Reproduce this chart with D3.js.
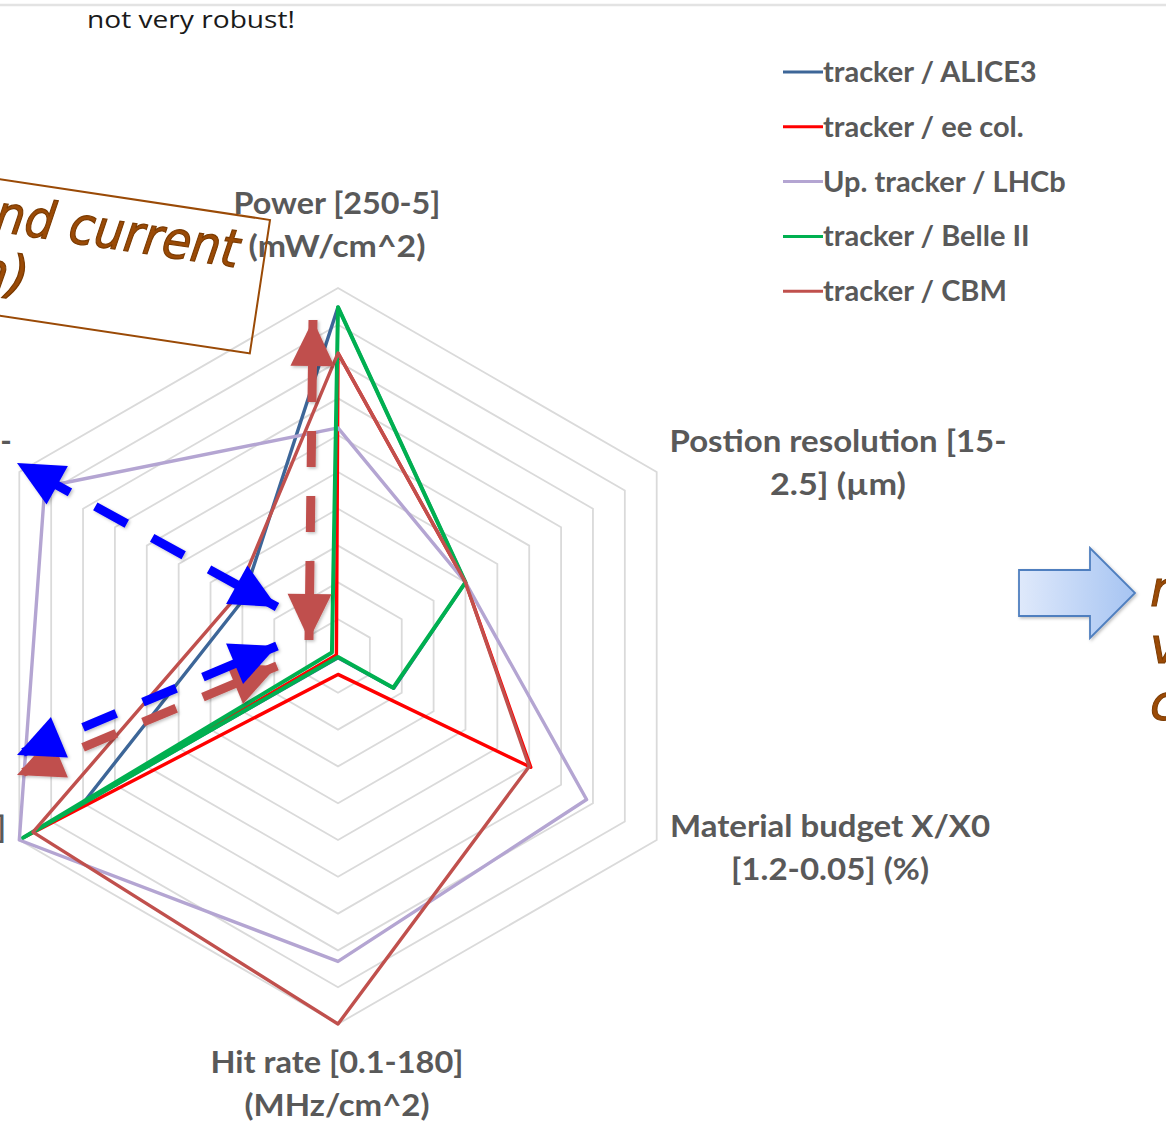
<html>
<head>
<script src="https://d3js.org/d3.v7.min.js"></script>
<style>
  body { margin: 0; background: #fff; }
  svg { display: block; }
</style>
</head>
<body>
<svg id="svg" width="1166" height="1132"></svg>
<script>
// ---- chart data ----
var axisLabels = [
  ["Power [250-5]", "(mW/cm^2)"],
  ["Postion resolution [15-", "2.5] (\u00b5m)"],
  ["Material budget X/X0", "[1.2-0.05] (%)"],
  ["Hit rate [0.1-180]", "(MHz/cm^2)"],
  ["Time resolution [100-0.1]"],
  ["Radiation tolerance [1e13-"]
];
var seriesNames = ["tracker / ALICE3", "tracker / ee col.", "Up. tracker / LHCb", "tracker / Belle II", "tracker / CBM"];
var alice3  = [9.48, 4.0, 1.75, 0.05, 8.0, 3.0];
var eeCol   = [8.23, 4.0, 6.05, 0.5, 9.85, 0.05];
var lhcb    = [6.2, 4.0, 7.8, 8.3, 10.0, 9.2];
var belle2  = [9.48, 4.0, 1.73, 0.03, 9.88, 0.19];
var cbm     = [8.23, 4.0, 6.0, 10.0, 9.57, 3.2];
var gridLevels = [1, 2, 3, 4, 5, 6, 7, 8, 9, 10];

var seriesValues = [alice3, eeCol, lhcb, belle2, cbm];
var colors = ["#3d6698", "#ff0000", "#b4a5d2", "#00b050", "#c0504d"];

// ---- layout ----
var svg = d3.select("svg");
var center = {x: 338, y: 656};
var R = 368;
var r = d3.scaleLinear().domain([0, 10]).range([0, R]);
var angle = d3.scaleLinear().domain([0, axisLabels.length]).range([0, 2 * Math.PI]);

var defs = svg.append("defs");
var shadow = defs.append("filter").attr("id", "shadow").attr("x", "-20%").attr("y", "-20%").attr("width", "140%").attr("height", "140%");
shadow.append("feDropShadow").attr("dx", 1.5).attr("dy", 1.5).attr("stdDeviation", 1.5)
  .attr("flood-color", "#000").attr("flood-opacity", 0.25);
var grad = defs.append("linearGradient").attr("id", "blockgrad");
grad.append("stop").attr("offset", "0%").attr("stop-color", "#dfe9fb");
grad.append("stop").attr("offset", "100%").attr("stop-color", "#a6c4f2");

// top slide line and text
svg.append("line").attr("x1", 0).attr("x2", 1166).attr("y1", 5).attr("y2", 5)
  .attr("stroke", "#e3e3e3").attr("stroke-width", 2.5);
svg.append("text").attr("x", 87).attr("y", 28)
  .attr("font-family", "Open Sans, sans-serif").attr("font-size", 24)
  .attr("textLength", 208).attr("lengthAdjust", "spacingAndGlyphs")
  .attr("fill", "#1a1a1a").text("not very robust!");

var chart = svg.append("g").attr("transform", "translate(" + center.x + "," + center.y + ")");

// grid hexagons
var radial = d3.lineRadial().curve(d3.curveLinearClosed);
chart.selectAll(".grid").data(gridLevels).enter().append("path")
  .attr("class", "grid")
  .attr("d", function(lv) {
    return radial(axisLabels.map(function(_, i) { return [angle(i), r(lv)]; }));
  })
  .attr("fill", "none").attr("stroke", "#dadada").attr("stroke-width", 1.8);

// series
chart.selectAll(".series").data(seriesValues).enter().append("path")
  .attr("class", "series")
  .attr("d", function(vals) {
    return radial(vals.map(function(v, i) { return [angle(i), r(v)]; }));
  })
  .attr("fill", "none")
  .attr("stroke", function(d, i) { return colors[i]; })
  .attr("stroke-width", function(d, i) { return i == 3 ? 4 : 3.4; })
  .attr("stroke-linejoin", "round");

// axis labels (the two left ones run off the slide edge)
var labelPos = [[337, 214], [838, 452], [830, 837], [337, 1073], [-170, 838], [-172, 452]];
var labelWidths = [[207, 177], [337, 136], [320, 198], [253, 185], [null], [null]];
var labelFont = "Lato, sans-serif";
axisLabels.forEach(function(lines, i) {
  var t = svg.append("text")
    .attr("font-family", labelFont).attr("font-weight", 700).attr("font-size", 31)
    .attr("fill", "#595959").attr("text-anchor", "middle");
  lines.forEach(function(s, k) {
    var ts = t.append("tspan").attr("x", labelPos[i][0]).attr("y", labelPos[i][1] + k * 43).text(s);
    if (labelWidths[i][k]) ts.attr("textLength", labelWidths[i][k]).attr("lengthAdjust", "spacingAndGlyphs");
  });
});

// legend
var legend = svg.append("g").attr("transform", "translate(783,72)");
var rows = legend.selectAll("g").data(seriesNames).enter().append("g")
  .attr("transform", function(d, i) { return "translate(0," + (i * 54.8) + ")"; });
rows.append("line").attr("x1", 0).attr("x2", 40).attr("y1", 0).attr("y2", 0)
  .attr("stroke", function(d, i) { return colors[i]; }).attr("stroke-width", 3);
rows.append("text").attr("x", 40).attr("y", 10)
  .attr("font-family", labelFont).attr("font-weight", 700).attr("font-size", 29)
  .attr("fill", "#595959").text(function(d) { return d; });

// annotation arrows (dashed, double headed)
var arrows = [
  {a: [313, 320], b: [309, 640], color: "#c0504d", off: -46},
  {a: [17, 463], b: [277, 607], color: "#0000ff", off: -24.5},
  {a: [17, 775], b: [277, 666], color: "#c0504d", off: -6.6},
  {a: [17, 755], b: [277, 646], color: "#0000ff", off: -6.6}
];
function head(tip, from, len, half) {
  var dx = tip[0] - from[0], dy = tip[1] - from[1];
  var L = Math.sqrt(dx * dx + dy * dy);
  var ux = dx / L, uy = dy / L;
  var bx = tip[0] - ux * len, by = tip[1] - uy * len;
  return [tip, [bx - uy * half, by + ux * half], [bx + uy * half, by - ux * half]];
}
var ann = svg.append("g").attr("filter", "url(#shadow)");
arrows.forEach(function(ar) {
  var g = ann.append("g");
  g.append("line").attr("x1", ar.a[0]).attr("y1", ar.a[1]).attr("x2", ar.b[0]).attr("y2", ar.b[1])
    .attr("stroke", ar.color).attr("stroke-width", 9)
    .attr("stroke-dasharray", "36 29").attr("stroke-dashoffset", ar.off);
  [head(ar.a, ar.b, 46, 22), head(ar.b, ar.a, 46, 22)].forEach(function(p) {
    g.append("polygon").attr("points", p.map(function(q) { return q.join(","); }).join(" "))
      .attr("fill", ar.color);
  });
});

// rotated text box (cut at the left edge)
var box = svg.append("g").attr("transform", "translate(270,220) rotate(8.6)");
box.append("rect").attr("x", -440).attr("y", 0).attr("width", 440).attr("height", 135)
  .attr("fill", "none").attr("stroke", "#9a4a06").attr("stroke-width", 2);
box.append("text").attr("x", -26).attr("y", 52).attr("text-anchor", "end")
  .attr("font-family", "DejaVu Sans, sans-serif").attr("font-style", "italic").attr("font-size", 52)
  .attr("textLength", 246).attr("lengthAdjust", "spacingAndGlyphs")
  .attr("fill", "#9a4a06").attr("stroke", "#7a3a00").attr("stroke-width", 1.2)
  .text("nd current");
box.append("text").attr("x", -230).attr("y", 110).attr("text-anchor", "end")
  .attr("font-family", "DejaVu Sans, sans-serif").attr("font-style", "italic").attr("font-size", 52)
  .attr("fill", "#9a4a06").attr("stroke", "#7a3a00").attr("stroke-width", 1.2)
  .text("n)");

// block arrow on the right
var blockPts = [[1019, 570], [1090, 570], [1090, 548], [1135, 593], [1090, 638], [1090, 616], [1019, 616]];
svg.append("polygon").attr("points", blockPts.map(function(q) { return q.join(","); }).join(" "))
  .attr("fill", "url(#blockgrad)").attr("stroke", "#4f7fbf").attr("stroke-width", 1.8)
  .attr("filter", "url(#shadow)");
["n", "v", "c"].forEach(function(s, i) {
  svg.append("text").attr("x", 1150).attr("y", 606 + i * 57)
    .attr("font-family", "DejaVu Sans, sans-serif").attr("font-style", "italic").attr("font-size", 50)
    .attr("fill", "#9a4a06").attr("stroke", "#7a3a00").attr("stroke-width", 1).text(s);
});
</script>
</body>
</html>
